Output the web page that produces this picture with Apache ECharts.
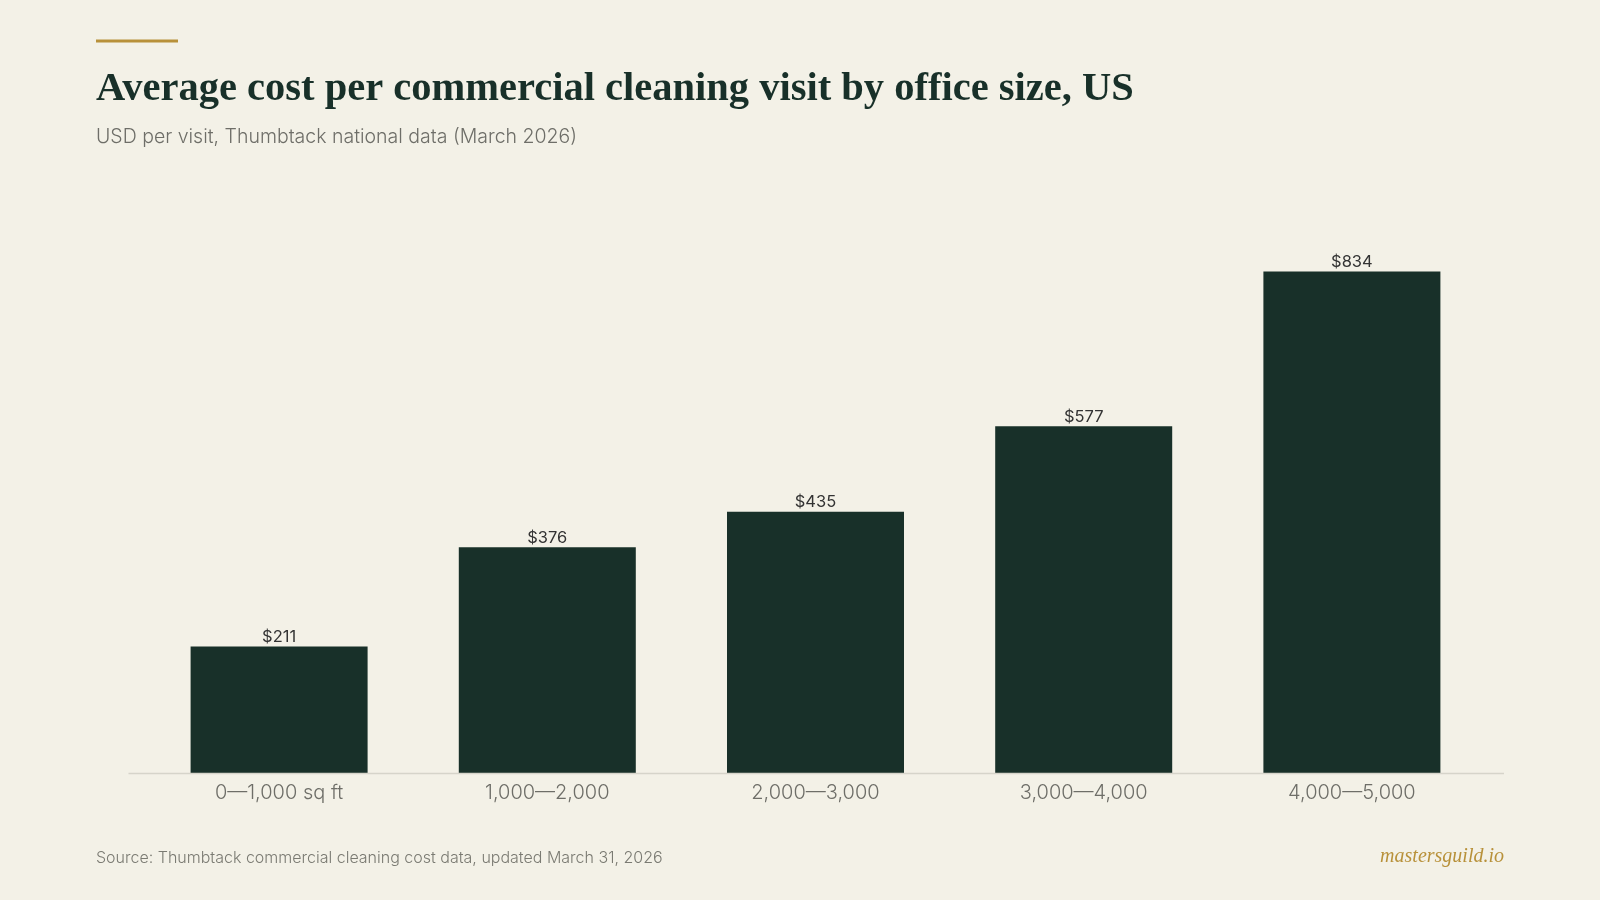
<!DOCTYPE html>
<html>
<head>
    <meta charset="UTF-8">
    <title>Commercial cleaning cost by office size</title>
    <style>
        html, body { margin: 0; padding: 0; background: #f3f1e7; }
        #container { width: 1600px; height: 900px; }
    </style>
</head>
<body>
    <div id="container"></div>
    <script src="https://cdn.jsdelivr.net/npm/echarts@6/dist/echarts.min.js"></script>
    <script type="text/javascript">
        // data
        var categories = ['0—1,000 sq ft', '1,000—2,000', '2,000—3,000', '3,000—4,000', '4,000—5,000'];
        var costs = [211, 376, 435, 577, 834];

        var myChart = echarts.init(document.getElementById('container'));
        var option = {
            backgroundColor: '#f3f1e7',
            title: {
                text: 'Average cost per commercial cleaning visit by office size, US',
                subtext: 'USD per visit, Thumbtack national data (March 2026)',
                left: 96,
                top: 69,
                padding: 0,
                itemGap: 17,
                textStyle: {
                    color: '#183029',
                    fontFamily: 'Liberation Serif',
                    fontWeight: 'bold',
                    fontSize: 40.5
                },
                subtextStyle: {
                    color: '#6e6e68',
                    fontFamily: 'Inter',
                    fontWeight: 300,
                    fontSize: 19.5
                }
            },
            grid: {
                left: 145,
                right: 114,
                top: 171.5,
                bottom: 126.5
            },
            xAxis: {
                type: 'category',
                data: categories,
                axisLine: { show: false },
                axisTick: { show: false },
                axisLabel: {
                    color: '#6e6e68',
                    fontFamily: 'Inter',
                    fontWeight: 300,
                    fontSize: 20,
                    margin: 9
                }
            },
            yAxis: {
                type: 'value',
                min: 0,
                max: 1000,
                show: false,
                splitLine: { show: false }
            },
            series: [{
                type: 'bar',
                data: costs,
                barWidth: 177,
                itemStyle: { color: '#183029' },
                label: {
                    show: true,
                    position: 'top',
                    distance: 1,
                    color: '#333333',
                    fontFamily: 'Inter',
                    fontSize: 16.5,
                    formatter: function (p) { return '$' + p.value; }
                }
            }],
            graphic: [
                { // gold accent bar above the title
                    type: 'rect',
                    shape: { x: 96, y: 39.5, width: 82, height: 3 },
                    style: { fill: '#b8913a' }
                },
                { // baseline, wider than the bar bands
                    type: 'line',
                    shape: { x1: 128.5, y1: 773.5, x2: 1504, y2: 773.5 },
                    style: { stroke: '#d6d4ca', lineWidth: 1.5 },
                    z: 10
                },
                {
                    type: 'text',
                    left: 96,
                    top: 850,
                    style: {
                        text: 'Source: Thumbtack commercial cleaning cost data, updated March 31, 2026',
                        fill: '#7a7a72',
                        font: '300 16px Inter'
                    }
                },
                {
                    type: 'text',
                    right: 96,
                    top: 847,
                    style: {
                        text: 'mastersguild.io',
                        fill: '#b8913a',
                        font: 'italic 20px "Liberation Serif"'
                    }
                }
            ]
        };
        myChart.setOption(option);
    </script>
</body>
</html>
